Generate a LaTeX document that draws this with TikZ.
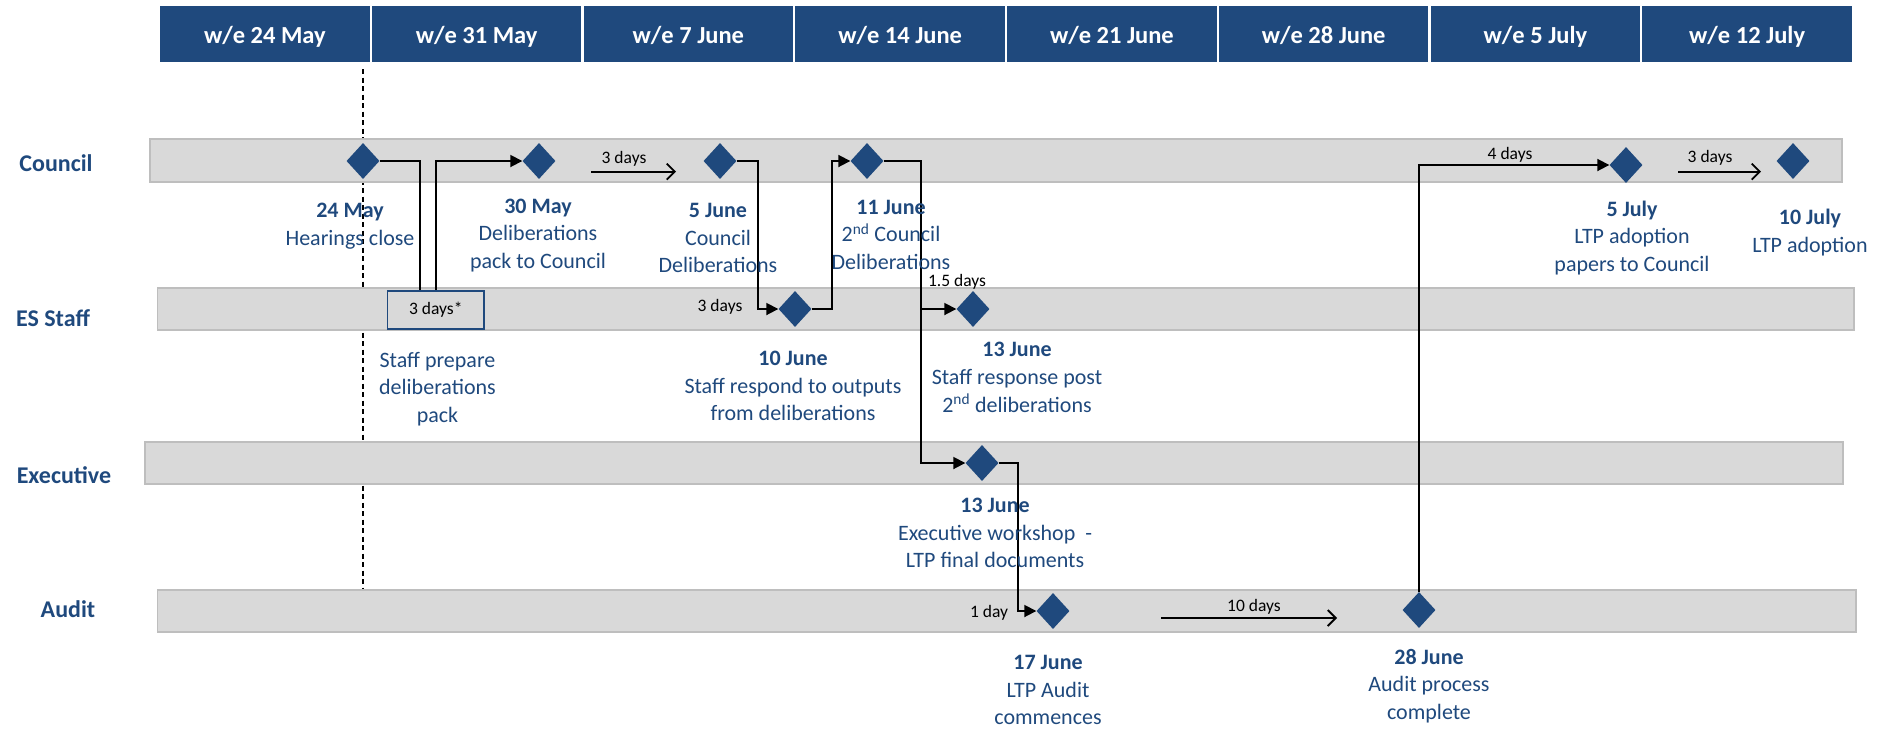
\documentclass[tikz,border=0pt]{standalone}
\usepackage{fontspec}
\setmainfont{Carlito}
\usetikzlibrary{shapes.geometric,arrows.meta}
\definecolor{navy}{RGB}{31,73,125}
\definecolor{lanegray}{RGB}{217,217,217}
\definecolor{laneedge}{RGB}{190,190,190}
\begin{document}
\begin{tikzpicture}[x=1pt,y=-1pt,
  hdr/.style={fill=navy,text=white,minimum width=209.5pt,minimum height=56pt,inner sep=0pt,text height=21.5pt,text depth=2pt,font=\fontsize{24.5}{29}\selectfont\bfseries},
  lane/.style={fill=lanegray,draw=laneedge,line width=1.5pt,inner sep=0pt},
  lanelabel/.style={text=navy,font=\fontsize{24}{29}\selectfont\bfseries,inner sep=0pt},
  ms/.style={diamond,fill=navy,minimum width=33pt,minimum height=36pt,inner sep=0pt},
  msl/.style={text=navy,align=center,font=\fontsize{22}{27.7}\selectfont,inner sep=0pt},
  small/.style={font=\fontsize{17.5}{20}\selectfont,inner sep=0pt},
  conn/.style={draw=black,line width=1.8pt,-{Triangle[length=12pt,width=12pt]}},
  link/.style={draw=black,line width=1.8pt},
  dur/.style={draw=black,line width=1.8pt,-{Straight Barb[length=8pt,width=16pt]}},
]
\useasboundingbox (0,0) rectangle (1878,729);
% header
\foreach \i/\t in {1/w\slash e 24 May,2/w\slash e 31 May,3/w\slash e 7 June,4/w\slash e 14 June,5/w\slash e 21 June,6/w\slash e 28 June,7/w\slash e 5 July,8/w\slash e 12 July}
  \node[hdr] (h\i) at ({159+211.75*(\i-0.5)},34) {\t};
% dashed line
\coordinate (dtop) at (363,69);
\coordinate (dbot) at (363,590);
\draw[line width=1.3pt,dash pattern=on 5pt off 3.5pt] (dtop) -- (dbot);
% lanes
\node[lane,minimum width=1692pt,minimum height=43pt] (council) at (996,160.5) {};
\node[lane,minimum width=1696.5pt,minimum height=42pt] (staff) at (1005.75,309) {};
\node[lane,minimum width=1698pt,minimum height=42pt] (exec) at (994,463) {};
\node[lane,minimum width=1698.5pt,minimum height=42pt] (audit) at (1006.75,611) {};
% lane labels
\node[lanelabel] (lc) at (56,163) {Council};
\node[lanelabel] (ls) at (53,318) {ES Staff};
\node[lanelabel] (le) at (64,475) {Executive};
\node[lanelabel] (la) at (68,609) {Audit};
% box
\node[draw=navy,line width=1.8pt,minimum width=96.5pt,minimum height=38.6pt,small] (prep) at (435.75,310) {3 days*};
% milestones
\node[ms] (d1) at (363,161) {};
\node[ms] (d2) at (539,161) {};
\node[ms] (d3) at (720,161) {};
\node[ms] (d4) at (867,161) {};
\node[ms] (d5) at (1626,165) {};
\node[ms] (d11) at (1793,161) {};
\node[ms] (d6) at (795,309) {};
\node[ms] (d7) at (973,309) {};
\node[ms] (d8) at (982,463) {};
\node[ms] (d9) at (1053,611) {};
\node[ms] (d10) at (1419,610) {};
% connectors
\draw[link] (d1.east) -| ([xshift=-16pt]prep.north);
\draw[conn] (prep.north) |- (d2.west);
\draw[conn] (d3.east) -- ++(21,0) |- (d6.west);
\draw[conn] (d6.east) -- ++(20,0) |- (d4.west);
\draw[conn] (d4.east) -- ++(37,0) coordinate (j1) |- (d8.west);
\draw[conn] (j1 |- d7.west) -- (d7.west);
\draw[conn] (d8.east) -- ++(19,0) |- (d9.west);
\draw[conn] (d10.north) |- (d5.west);
% duration arrows
\coordinate (a1s) at (591,171.7); \coordinate (a1e) at (676,171.7);
\draw[dur] (a1s) -- (a1e);
\coordinate (a2s) at (1678,171.7); \coordinate (a2e) at (1761,171.7);
\draw[dur] (a2s) -- (a2e);
\coordinate (a3s) at (1161,618); \coordinate (a3e) at (1337,618);
\draw[dur] (a3s) -- (a3e);
% duration labels
\node[small] (t1) at (624,159) {3 days};
\node[small] (t2) at (1710,158) {3 days};
\node[small] (t3) at (1254,607) {10 days};
\node[small] (t4) at (720,307) {3 days};
\node[small] (t5) at (957,282) {1.5 days};
\node[small] (t6) at (1510,155) {4 days};
\node[small] (t7) at (989,613) {1 day};
% milestone labels
\node[msl] (l1) at (350,226) {\textbf{24 May}\\Hearings close};
\node[msl] (l2) at (538,235.5) {\textbf{30 May}\\Deliberations\\pack to Council};
\node[msl] (l3) at (718,238) {\textbf{5 June}\\Council\\Deliberations};
\node[msl] (l4) at (891,234.7) {\textbf{11 June}\\2\textsuperscript{nd} Council\\Deliberations};
\node[msl] (l5) at (1632,238) {\textbf{5 July}\\LTP adoption\\papers to Council};
\node[msl] (l6) at (1810,232.5) {\textbf{10 July}\\LTP adoption};
\node[msl] (l7) at (437.5,389) {Staff prepare\\deliberations\\pack};
\node[msl] (l8) at (793,386) {\textbf{10 June}\\Staff respond to outputs\\from deliberations};
\node[msl] (l9) at (1017,377.5) {\textbf{13 June}\\Staff response post\\2\textsuperscript{nd} deliberations};
\node[msl] (l10) at (995,533) {\textbf{13 June}\\Executive workshop\ \ -\\LTP final documents};
\node[msl] (l11) at (1048,690) {\textbf{17 June}\\LTP Audit\\commences};
\node[msl] (l12) at (1429,686) {\textbf{28 June}\\Audit process\\complete};
\end{tikzpicture}
\end{document}
